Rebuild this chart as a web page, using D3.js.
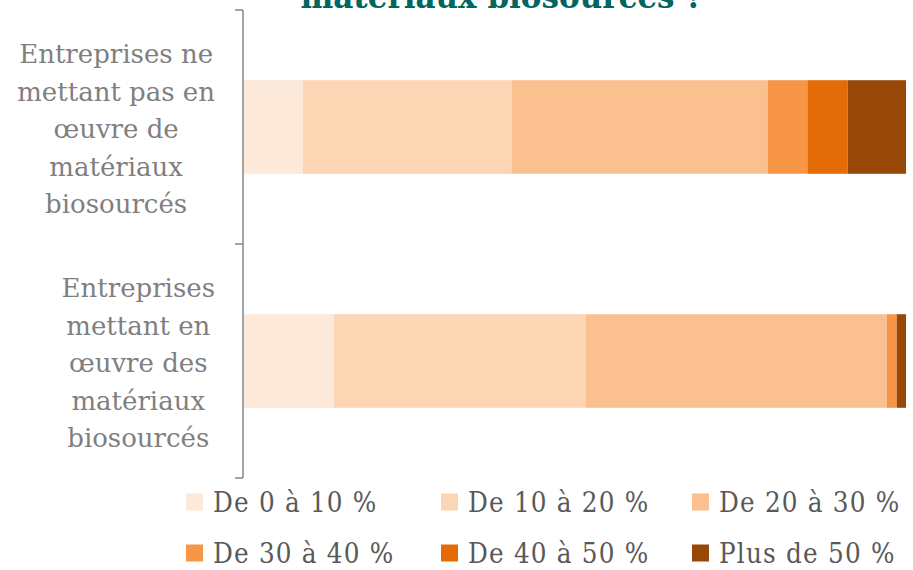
<!DOCTYPE html>
<html>
<head>
<meta charset="utf-8">
<script src="https://cdn.jsdelivr.net/npm/d3@7"></script>
<style>
  body { margin: 0; background: #fff; }
  svg { display: block; }
</style>
</head>
<body>
<svg id="chart" width="913" height="570"></svg>
<script>
// categories (each label is split on its line breaks)
const categories = [
  ["Entreprises ne", "mettant pas en", "œuvre de", "matériaux", "biosourcés"],
  ["Entreprises", "mettant en", "œuvre des", "matériaux", "biosourcés"],
];
const seriesNames = ["De 0 à 10 %", "De 10 à 20 %", "De 20 à 30 %", "De 30 à 40 %", "De 40 à 50 %", "Plus de 50 %"];
const colors = ["#FDE9D9", "#FCD5B5", "#FAC090", "#F79646", "#E36C09", "#974806"];
// share of each series per category (%)
const valuesPas = [8.9, 31.5, 38.7, 6.0, 6.1, 8.8];
const valuesAvec = [13.6, 38.0, 45.5, 1.5, 0, 1.4];
const title = "matériaux biosourcés ?";

const svg = d3.select("#chart");

const rows = [valuesPas, valuesAvec].map((vals, i) => {
  const r = { key: i };
  seriesNames.forEach((s, j) => (r[s] = vals[j]));
  return r;
});
const stack = d3.stack().keys(seriesNames)(rows);

const x = d3.scaleLinear().domain([0, 100]).range([244, 906]);
const y = d3
  .scaleBand()
  .domain(d3.range(categories.length))
  .range([10, 478])
  .paddingInner(0.6)
  .paddingOuter(0.3);

// title (only its last line shows, as in the source)
svg.append("text")
  .attr("x", 502)
  .attr("y", 8)
  .attr("text-anchor", "middle")
  .attr("font-family", "'DejaVu Serif', serif")
  .attr("font-weight", "bold")
  .attr("font-size", 31)
  .attr("fill", "#00665E")
  .text(title);

// bars
svg.append("g")
  .selectAll("g")
  .data(stack)
  .join("g")
  .attr("fill", (d, i) => colors[i])
  .selectAll("rect")
  .data((d) => d)
  .join("rect")
  .attr("x", (d) => x(d[0]))
  .attr("width", (d) => x(d[1]) - x(d[0]))
  .attr("y", (d, i) => y(i))
  .attr("height", y.bandwidth());

// axis: line with ticks on the category boundaries
const step = y.step();
const y0 = y.range()[0];
const axisX = 243;
const bounds = d3.range(categories.length + 1).map((i) => y0 + i * step);
const axis = svg.append("g").attr("stroke", "#868686").attr("stroke-width", 1.5);
axis.append("line")
  .attr("x1", axisX).attr("x2", axisX)
  .attr("y1", bounds[0]).attr("y2", bounds[bounds.length - 1]);
axis.selectAll(".tick")
  .data(bounds)
  .join("line")
  .attr("class", "tick")
  .attr("x1", axisX - 8).attr("x2", axisX)
  .attr("y1", (d) => d).attr("y2", (d) => d);

// category labels: block of centred lines, right edge near the axis
const lineH = 37.5;
categories.forEach((lines, i) => {
  const cy = y(i) + y.bandwidth() / 2;
  const t = svg.append("text")
    .attr("text-anchor", "middle")
    .attr("font-family", "'DejaVu Serif', serif")
    .attr("font-size", 26)
    .attr("fill", "#7F7F7F");
  const spans = lines.map((l, k) =>
    t.append("tspan")
      .attr("y", cy + 11 + (k - (lines.length - 1) / 2) * lineH)
      .text(l)
  );
  const maxW = d3.max(spans, (s) => s.node().getComputedTextLength());
  spans.forEach((s) => s.attr("x", 215 - maxW / 2));
});

// legend
const legX = [186, 441, 692];
const legY = [502, 553];
const leg = svg.append("g")
  .selectAll("g")
  .data(seriesNames)
  .join("g")
  .attr("transform", (d, i) => `translate(${legX[i % 3]},${legY[Math.floor(i / 3)]})`);
leg.append("rect")
  .attr("x", 0).attr("y", -8.5)
  .attr("width", 17).attr("height", 17)
  .attr("fill", (d, i) => colors[i]);
leg.append("text")
  .attr("x", 27)
  .attr("y", 9.5)
  .attr("font-family", "'DejaVu Serif Condensed', 'DejaVu Serif', serif")
  .attr("font-size", 27.5)
  .attr("letter-spacing", 1.2)
  .attr("fill", "#595959")
  .text((d) => d);
</script>
</body>
</html>
